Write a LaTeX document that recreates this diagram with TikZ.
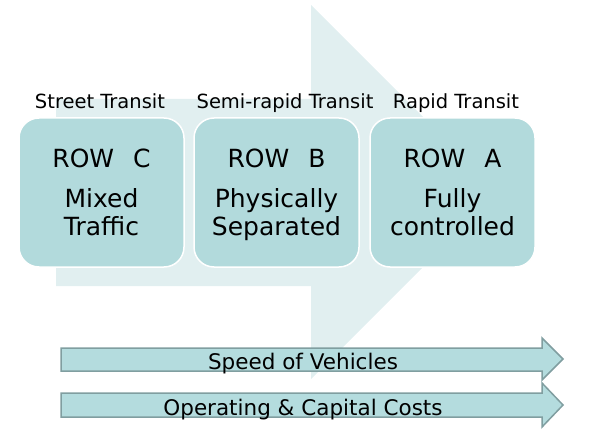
\documentclass[tikz,border=0pt]{standalone}
\usepackage{fontspec}
\setmainfont{DejaVu Sans}
\definecolor{bgarrow}{RGB}{225,239,240}
\definecolor{rowfill}{RGB}{178,218,220}
\definecolor{barfill}{RGB}{180,220,222}
\definecolor{barline}{RGB}{128,158,160}

\begin{document}
\begin{tikzpicture}[x=1pt,y=-1pt,
 rowbox/.style={draw=white, line width=1.5pt, fill=rowfill, rounded corners=20pt,
   minimum width=165pt, minimum height=149pt, inner sep=0pt},
 rowtext/.style={font=\fontsize{25pt}{28pt}\selectfont, align=center, anchor=base},
 transitlabel/.style={font=\fontsize{19.5pt}{22pt}\selectfont, anchor=base},
 bar/.style={draw=barline, line width=1.5pt, fill=barfill},
 bartext/.style={font=\fontsize{21.5pt}{24pt}\selectfont, anchor=base}]
 \useasboundingbox (0,0) rectangle (589,433);
 % big arrow behind
 \fill[bgarrow] (56,99) -- (311,99) -- (311,5) -- (498,192) -- (311,379) -- (311,286) -- (56,286) -- cycle;
 % right of way classes
 \node[rowbox] (rowC) at (101.5,192.5) {};
 \node[rowbox] (rowB) at (276.5,192.5) {};
 \node[rowbox] (rowA) at (452.5,192.5) {};
 \node[rowtext] (rowCtext) at (101.5,235) {ROW\hspace{19pt}C\\[12pt]Mixed\\Traffic};
 \node[rowtext] (rowBtext) at (276.5,235) {ROW\hspace{19pt}B\\[12pt]Physically\\Separated};
 \node[rowtext] (rowAtext) at (452.5,235) {ROW\hspace{19pt}A\\[12pt]Fully\\controlled};
 \node[transitlabel] (street) at (100,109) {Street Transit};
 \node[transitlabel] (semirapid) at (285,109) {Semi-rapid Transit};
 \node[transitlabel] (rapid) at (456,109) {Rapid Transit};
 % bars
 \draw[bar] (61,348) -- (542,348) -- (542,338) -- (563,359) -- (542,380) -- (542,371) -- (61,371) -- cycle;
 \draw[bar] (61,393) -- (542,393) -- (542,383) -- (563,405) -- (542,427) -- (542,417) -- (61,417) -- cycle;
 \node[bartext] (speed) at (303,369) {Speed of Vehicles};
 \node[bartext] (costs) at (303,415) {Operating \& Capital Costs};
\end{tikzpicture}
\end{document}
